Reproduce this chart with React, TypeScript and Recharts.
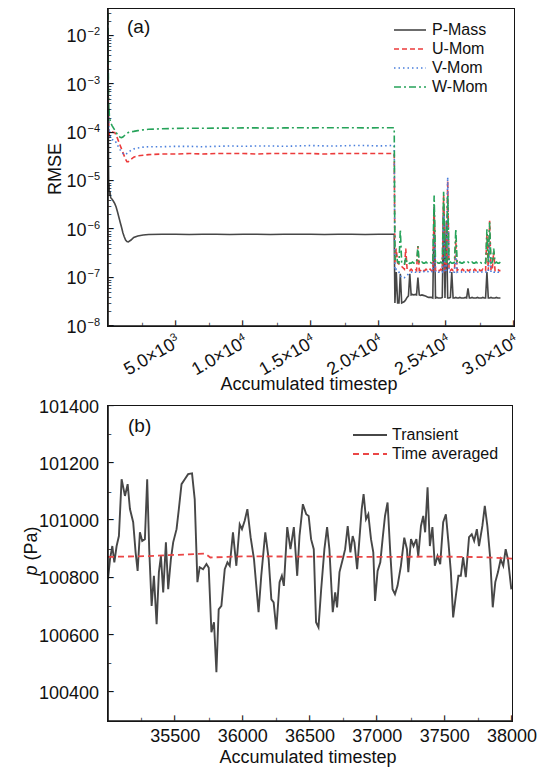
import { LineChart, Line, XAxis, YAxis, Legend, Customized } from "recharts"

const FONT = "'Liberation Sans', Arial, sans-serif"
const INK = "#151515"

// ---- panel (a): RMSE vs accumulated timestep ----
const earlySteps = [
  0, 20, 40, 60, 80, 100, 150, 200, 300, 400, 500, 600, 700, 800, 900, 1000, 1100, 1200, 1300, 1400,
  1500, 1700, 1900, 2200, 2600, 3000, 4000, 5000, 6000, 7000, 8000, 9000, 10000, 11000, 12000, 13000,
  14000, 15000, 16000, 17000, 18000, 19000, 20000, 21000, 21150,
]
const pMassEarly = [
  1.2e-2, 3e-4, 2e-5, 6e-6, 9e-6, 5e-6, 6e-6, 4.5e-6, 4.2e-6, 3.8e-6,
  3.4e-6, 2.9e-6, 2.3e-6, 1.8e-6, 1.4e-6, 1.1e-6, 8.5e-7, 7e-7, 6e-7, 5.6e-7,
  5.5e-7, 6e-7, 6.8e-7, 7.3e-7, 7.6e-7, 7.8e-7, 7.9e-7, 7.9e-7, 7.8e-7, 7.9e-7,
  7.9e-7, 7.8e-7, 7.9e-7, 7.9e-7, 7.8e-7, 7.9e-7, 7.9e-7, 7.9e-7, 7.8e-7, 7.9e-7,
  7.9e-7, 7.8e-7, 7.9e-7, 7.9e-7, 7.9e-7,
]
const uMomEarly = [
  2.5e-3, 8e-4, 2e-4, 1.1e-4, 8e-5, 1e-4, 1.05e-4, 1.05e-4, 1.03e-4, 1.01e-4,
  1e-4, 8.9e-5, 7.6e-5, 6.4e-5, 5.4e-5, 4.6e-5, 3.9e-5, 3.3e-5, 2.8e-5, 2.5e-5,
  2.5e-5, 2.8e-5, 3.1e-5, 3.3e-5, 3.4e-5, 3.5e-5, 3.6e-5, 3.6e-5, 3.7e-5, 3.6e-5,
  3.7e-5, 3.7e-5, 3.7e-5, 3.6e-5, 3.7e-5, 3.7e-5, 3.7e-5, 3.7e-5, 3.6e-5, 3.7e-5,
  3.7e-5, 3.7e-5, 3.7e-5, 3.7e-5, 3.7e-5,
]
const vMomEarly = [
  1e-2, 1e-3, 2.5e-4, 1.3e-4, 1.1e-4, 1.2e-4, 8.5e-5, 7.5e-5, 7.2e-5, 7e-5,
  7e-5, 6.2e-5, 5.5e-5, 4.9e-5, 4.4e-5, 4e-5, 3.7e-5, 3.5e-5, 3.5e-5, 3.7e-5,
  3.9e-5, 4.3e-5, 4.6e-5, 4.8e-5, 5e-5, 5.1e-5, 5.1e-5, 5.2e-5, 5.2e-5, 5.1e-5,
  5.2e-5, 5.3e-5, 5.2e-5, 5.3e-5, 5.3e-5, 5.2e-5, 5.3e-5, 5.4e-5, 5.3e-5, 5.3e-5,
  5.4e-5, 5.4e-5, 5.3e-5, 5.4e-5, 5.4e-5,
]
const wMomEarly = [
  3e-2, 3e-3, 6e-4, 2.6e-4, 3.2e-4, 2.2e-4, 1.8e-4, 1.6e-4, 1.4e-4, 1.25e-4,
  1.12e-4, 1e-4, 9.2e-5, 8.5e-5, 8e-5, 7.9e-5, 8.1e-5, 8.6e-5, 9.1e-5, 9.6e-5,
  1e-4, 1.04e-4, 1.06e-4, 1.1e-4, 1.14e-4, 1.17e-4, 1.2e-4, 1.22e-4, 1.23e-4, 1.23e-4,
  1.24e-4, 1.24e-4, 1.25e-4, 1.25e-4, 1.24e-4, 1.25e-4, 1.26e-4, 1.25e-4, 1.26e-4, 1.26e-4,
  1.26e-4, 1.25e-4, 1.26e-4, 1.26e-4, 1.26e-4,
]

const lateSteps = [
  21200, 21300, 21400, 21500, 21600, 21700, 21800, 21900, 22000, 22100,
  22200, 22300, 22400, 22500, 22600, 22700, 22800, 22900, 23000, 23100,
  23200, 23300, 23400, 23500, 23600, 23700, 23800, 23900, 24000, 24100,
  24200, 24300, 24400, 24500, 24600, 24700, 24800, 24900, 25000, 25100,
  25200, 25300, 25400, 25500, 25600, 25700, 25800, 25900, 26000, 26100,
  26200, 26300, 26400, 26500, 26600, 26700, 26800, 26900, 27000, 27100,
  27200, 27300, 27400, 27500, 27600, 27700, 27800, 27900, 28000, 28100,
  28200, 28300, 28400, 28500, 28600, 28700, 28800, 28900, 29000,
]
const pMassLate = [
  3.0e-8, 1.3e-7, 3.0e-8, 3.0e-8, 1.2e-7, 3.0e-8, 3.1e-8, 3.2e-8, 3.5e-8, 3.9e-8,
  4.2e-8, 1.2e-7, 4.4e-8, 4.5e-8, 4.4e-8, 4.5e-8, 4.4e-8, 1.0e-7, 4.4e-8, 4.3e-8,
  4.4e-8, 4.3e-8, 4.2e-8, 4.1e-8, 4.0e-8, 3.9e-8, 3.9e-8, 3.9e-8, 3.8e-8, 3.0e-6,
  3.8e-8, 3.9e-8, 3.8e-8, 3.8e-8, 3.8e-8, 3.9e-8, 3.0e-6, 3.8e-8, 1.5e-6, 3.8e-8,
  3.8e-8, 3.9e-8, 1.3e-7, 3.8e-8, 3.8e-8, 3.9e-8, 3.8e-8, 3.8e-8, 3.9e-8, 3.8e-8,
  3.8e-8, 3.8e-8, 3.9e-8, 3.8e-8, 6.0e-8, 3.8e-8, 3.8e-8, 3.9e-8, 3.8e-8, 3.8e-8,
  3.8e-8, 3.9e-8, 3.8e-8, 3.8e-8, 3.8e-8, 3.9e-8, 3.8e-8, 3.8e-8, 1.3e-7, 3.8e-8,
  3.8e-8, 3.9e-8, 3.8e-8, 3.8e-8, 3.8e-8, 3.9e-8, 3.8e-8, 3.8e-8, 3.8e-8,
]
const uMomLate = [
  2.0e-7, 4.0e-7, 2.0e-7, 1.9e-7, 1.8e-7, 1.7e-7, 1.6e-7, 1.5e-7, 4.0e-7, 1.5e-7,
  1.4e-7, 1.4e-7, 1.5e-7, 1.4e-7, 1.4e-7, 1.5e-7, 1.4e-7, 4.5e-7, 1.4e-7, 1.4e-7,
  1.5e-7, 1.4e-7, 1.4e-7, 1.5e-7, 1.4e-7, 1.4e-7, 1.5e-7, 1.4e-7, 1.4e-7, 2.0e-6,
  1.4e-7, 1.5e-7, 1.4e-7, 1.4e-7, 1.5e-7, 1.4e-7, 5.0e-6, 1.4e-7, 1.5e-7, 1.0e-5,
  1.4e-7, 1.4e-7, 1.5e-7, 1.4e-7, 1.4e-7, 6.0e-7, 1.4e-7, 1.5e-7, 1.4e-7, 1.4e-7,
  1.5e-7, 1.4e-7, 1.4e-7, 1.5e-7, 1.4e-7, 1.4e-7, 1.5e-7, 1.4e-7, 1.4e-7, 1.5e-7,
  1.4e-7, 1.4e-7, 1.5e-7, 1.4e-7, 1.4e-7, 1.5e-7, 1.4e-7, 1.4e-7, 8.0e-7, 1.4e-7,
  1.5e-6, 1.4e-7, 1.5e-7, 3.5e-7, 1.4e-7, 1.4e-7, 1.5e-7, 1.4e-7, 1.4e-7,
]
const vMomLate = [
  1.4e-7, 1.5e-7, 1.4e-7, 1.3e-7, 1.1e-7, 1.0e-7, 1.0e-7, 1.0e-7, 1.05e-7, 1.1e-7,
  1.2e-7, 1.25e-7, 1.3e-7, 1.3e-7, 1.35e-7, 1.3e-7, 1.3e-7, 1.35e-7, 1.3e-7, 1.3e-7,
  1.3e-7, 1.35e-7, 1.3e-7, 1.3e-7, 1.35e-7, 1.3e-7, 1.3e-7, 1.35e-7, 1.3e-7, 8.0e-7,
  1.3e-7, 1.35e-7, 1.3e-7, 1.3e-7, 1.35e-7, 1.3e-7, 2.0e-6, 1.3e-7, 1.35e-7, 1.2e-5,
  1.3e-7, 1.3e-7, 1.35e-7, 1.3e-7, 1.3e-7, 3.0e-7, 1.3e-7, 1.35e-7, 1.3e-7, 1.3e-7,
  1.35e-7, 1.3e-7, 1.3e-7, 1.35e-7, 1.3e-7, 1.3e-7, 1.35e-7, 1.3e-7, 1.3e-7, 1.35e-7,
  1.3e-7, 1.3e-7, 1.35e-7, 1.3e-7, 1.3e-7, 1.35e-7, 1.3e-7, 1.3e-7, 1.35e-7, 1.3e-7,
  5.0e-7, 1.3e-7, 1.35e-7, 1.3e-7, 1.3e-7, 1.35e-7, 1.3e-7, 1.3e-7, 1.3e-7,
]
const wMomLate = [
  2.3e-7, 3.0e-7, 2.1e-7, 2.0e-7, 1.0e-6, 2.0e-7, 1.9e-7, 1.9e-7, 2.6e-7, 2.0e-7,
  1.9e-7, 2.0e-7, 2.0e-7, 2.1e-7, 2.0e-7, 2.0e-7, 2.1e-7, 4.5e-7, 2.0e-7, 2.0e-7,
  2.1e-7, 2.0e-7, 2.0e-7, 2.1e-7, 2.0e-7, 2.0e-7, 2.1e-7, 2.0e-7, 2.0e-7, 5.0e-6,
  2.0e-7, 2.1e-7, 2.0e-7, 2.0e-7, 2.1e-7, 2.0e-7, 6.0e-6, 2.1e-7, 2.0e-7, 5.0e-6,
  2.0e-7, 2.1e-7, 2.0e-7, 2.0e-7, 2.1e-7, 1.0e-6, 2.0e-7, 2.0e-7, 2.1e-7, 2.0e-7,
  2.0e-7, 2.1e-7, 2.0e-7, 2.0e-7, 2.1e-7, 2.0e-7, 2.0e-7, 2.1e-7, 2.0e-7, 2.0e-7,
  2.1e-7, 2.0e-7, 2.0e-7, 2.1e-7, 2.0e-7, 2.0e-7, 2.1e-7, 2.0e-7, 1.0e-6, 2.0e-7,
  1.4e-6, 2.0e-7, 2.1e-7, 4.0e-7, 2.0e-7, 2.1e-7, 2.0e-7, 2.0e-7, 2.1e-7,
]

const rmseXTicks = [2500, 5000, 7500, 10000, 12500, 15000, 17500, 20000, 22500, 25000, 27500, 30000]
const rmseXLabels: Record<number, [string, string]> = {
  5000: ["5.0", "3"], 10000: ["1.0", "4"], 15000: ["1.5", "4"],
  20000: ["2.0", "4"], 25000: ["2.5", "4"], 30000: ["3.0", "4"],
}
const rmseDecades = [-8, -7, -6, -5, -4, -3, -2]
const logMinors = [2, 3, 4, 5, 6, 7, 8, 9]
const RMSE_DOMAIN = [1e-8, 0.036]

// ---- panel (b): pressure signal ----
const transientSteps = [
  35000, 35015, 35032, 35047, 35064, 35081, 35101, 35126, 35146, 35163,
  35187, 35205, 35220, 35237, 35254, 35274, 35291, 35306, 35324, 35341,
  35361, 35378, 35393, 35410, 35430, 35447, 35467, 35484, 35509, 35526,
  35546, 35570, 35595, 35624, 35644, 35664, 35681, 35706, 35731, 35748,
  35768, 35787, 35805, 35822, 35842, 35867, 35887, 35904, 35928, 35953,
  35978, 35995, 36015, 36035, 36059, 36084, 36118, 36138, 36168, 36193,
  36213, 36230, 36250, 36274, 36291, 36306, 36331, 36355, 36380, 36405,
  36422, 36447, 36472, 36490, 36508, 36528, 36545, 36563, 36583, 36607,
  36627, 36644, 36669, 36687, 36701, 36719, 36743, 36761, 36780, 36800,
  36817, 36830, 36850, 36867, 36884, 36898, 36916, 36933, 36953, 36970,
  36983, 37002, 37022, 37039, 37057, 37076, 37096, 37113, 37131, 37150,
  37175, 37200, 37220, 37230, 37250, 37269, 37290, 37304, 37324, 37341,
  37355, 37373, 37390, 37409, 37427, 37447, 37467, 37489, 37509, 37528,
  37546, 37563, 37583, 37602, 37620, 37637, 37657, 37681, 37701, 37719,
  37739, 37755, 37780, 37798, 37817, 37837, 37857, 37876, 37896, 37916,
  37935, 37953, 37970, 37995,
]
const transientPa = [
  100795, 100865, 100911, 100854, 100911, 100946, 101144, 101086, 101127, 101040,
  100994, 100889, 100824, 100959, 100929, 100935, 101144, 100900, 100702, 100807,
  100638, 100820, 100876, 100749, 100924, 100760, 100865, 100924, 100970, 101040,
  101127, 101144, 101162, 101165, 101074, 100785, 100837, 100830, 100848, 100835,
  100610, 100645, 100470, 100690, 100702, 100830, 100854, 100842, 100959, 100842,
  100987, 100970, 100999, 101040, 100942, 100865, 100680, 100807, 100959, 100865,
  100725, 100714, 100620, 100785, 100807, 100772, 100977, 100900, 100977, 100807,
  100946, 101057, 101022, 101016, 100935, 100900, 100645, 100627, 100760, 100900,
  100977, 100900, 100680, 100749, 100697, 100820, 100865, 100900, 100981, 100889,
  100946, 100924, 100830, 100935, 101040, 101092, 101005, 101022, 100935, 100889,
  100719, 100824, 100854, 100935, 101016, 101063, 100889, 100760, 100743, 100772,
  100842, 100940, 100900, 100820, 100935, 100911, 100935, 100876, 100981, 101016,
  100959, 101116, 100911, 100977, 100842, 100876, 100848, 100994, 101022, 100924,
  100820, 100662, 100737, 100807, 100807, 100872, 100802, 100942, 100952, 100929,
  100970, 100911, 100981, 101051, 100981, 100876, 100697, 100785, 100820, 100865,
  100842, 100900, 100865, 100760,
]
const averagedSteps = [35000, 35300, 35600, 35720, 35760, 36000, 36500, 37000, 37500, 37800, 38000]
const averagedPa = [100873, 100876, 100882, 100885, 100871, 100875, 100874, 100873, 100874, 100872, 100867]

const pXTicks = [35250, 35500, 35750, 36000, 36250, 36500, 36750, 37000, 37250, 37500, 37750, 38000]
const pYTicks = [100400, 100500, 100600, 100700, 100800, 100900, 101000, 101100, 101200, 101300, 101400]

const COLORS = { p: "#474747", u: "#ec3b3b", v: "#4a7fdc", w: "#26a35a", avg: "#ea4646" }

const rmseRows = [...earlySteps, ...lateSteps].map((step, i) => {
  const early = i < earlySteps.length
  const j = early ? i : i - earlySteps.length
  return {
    step,
    pMass: early ? pMassEarly[j] : pMassLate[j],
    uMom: early ? uMomEarly[j] : uMomLate[j],
    vMom: early ? vMomEarly[j] : vMomLate[j],
    wMom: early ? wMomEarly[j] : wMomLate[j],
  }
})
const transientRows = transientSteps.map((t, i) => ({ t, p: transientPa[i] }))
const averagedRows = averagedSteps.map((t, i) => ({ t, p: averagedPa[i] }))

const logTicks: number[] = []
rmseDecades.forEach((e) => {
  logTicks.push(Math.pow(10, e))
  if (e < -2) logMinors.forEach((m) => logTicks.push(m * Math.pow(10, e)))
})
logTicks.push(2e-2, 3e-2)

const isDecade = (v: number) => Math.abs(Math.log10(v) - Math.round(Math.log10(v))) < 1e-6

// tick marks drawn with an en dash glyph (rotated for vertical marks)
function Mark({ x, y, dir, len }: { x: number; y: number; dir: "up" | "down" | "left" | "right"; len: number }) {
  const fs = len / 0.556
  const angle = dir === "right" ? 0 : dir === "left" ? 180 : dir === "up" ? -90 : 90
  return (
    <text
      x={x}
      y={y}
      dy={0.27 * fs}
      fontSize={fs}
      fontWeight="bold"
      fontFamily={FONT}
      fill={INK}
      transform={`rotate(${angle} ${x} ${y})`}
    >
      {"\u2013"}
    </text>
  )
}

function RmseBottomTick({ x, y, payload }: any) {
  const v = payload.value
  const lab = rmseXLabels[v]
  return (
    <g>
      <Mark x={x} y={y} dir="up" len={lab ? 6 : 3.5} />
      {lab && (
        <text
          x={x + 6}
          y={y + 19}
          textAnchor="end"
          transform={`rotate(-30 ${x + 6} ${y + 19})`}
          fontSize={18}
          fontFamily={FONT}
          fill="#111"
        >
          {lab[0]}×10<tspan dy={-7} fontSize={11}>{lab[1]}</tspan>
        </text>
      )}
    </g>
  )
}

function MirrorTick({ x, y, payload, side, majorTest }: any) {
  const len = majorTest(payload.value) ? 6 : 3.5
  return <Mark x={x} y={y} dir={side === "top" ? "down" : "left"} len={len} />
}

function RmseLeftTick({ x, y, payload }: any) {
  const v = payload.value
  const major = isDecade(v)
  return (
    <g>
      <Mark x={x} y={y} dir="right" len={major ? 6 : 3.5} />
      {major && (
        <text x={x - 8} y={y + 6.5} textAnchor="end" fontSize={18} fontFamily={FONT} fill="#111">
          10<tspan dx={1} dy={-7} fontSize={11}>{"\u2212" + Math.abs(Math.round(Math.log10(v)))}</tspan>
        </text>
      )}
    </g>
  )
}

function PBottomTick({ x, y, payload }: any) {
  const v = payload.value
  const major = v % 500 === 0
  return (
    <g>
      <Mark x={x} y={y} dir="up" len={major ? 6 : 3.5} />
      {major && (
        <text x={x} y={y + 21} textAnchor="middle" fontSize={18} fontFamily={FONT} fill="#111">
          {v}
        </text>
      )}
    </g>
  )
}

function PLeftTick({ x, y, payload }: any) {
  const v = payload.value
  const major = v % 200 === 0
  return (
    <g>
      <Mark x={x} y={y} dir="right" len={major ? 6 : 3.5} />
      {major && (
        <text x={x - 9} y={y + 6.5} textAnchor="end" fontSize={18} fontFamily={FONT} fill="#111">
          {v}
        </text>
      )}
    </g>
  )
}

type LegendItem = { name: string; color: string; dash?: string; width: number }

function LegendBox({ items, lineW, gap }: { items: LegendItem[]; lineW: number; gap: number }) {
  return (
    <div style={{ fontFamily: FONT, fontSize: 16, color: "#111" }}>
      {items.map((it) => (
        <div key={it.name} style={{ display: "flex", alignItems: "center", height: 19 }}>
          <svg width={lineW} height={10} style={{ marginRight: gap }}>
            <line x1={0} y1={5} x2={lineW} y2={5} stroke={it.color} strokeWidth={it.width} strokeDasharray={it.dash} />
          </svg>
          <span>{it.name}</span>
        </div>
      ))}
    </div>
  )
}

const rmseLegend: LegendItem[] = [
  { name: "P-Mass", color: COLORS.p, width: 1.6 },
  { name: "U-Mom", color: COLORS.u, dash: "5 3", width: 1.6 },
  { name: "V-Mom", color: COLORS.v, dash: "1.5 3", width: 1.6 },
  { name: "W-Mom", color: COLORS.w, dash: "7 3 2 3", width: 1.6 },
]
const pLegend: LegendItem[] = [
  { name: "Transient", color: COLORS.p, width: 1.8 },
  { name: "Time averaged", color: COLORS.avg, dash: "6 4", width: 1.8 },
]

const axisCommon = {
  type: "number" as const,
  allowDataOverflow: true,
  interval: 0 as const,
  tickSize: 0,
  tickMargin: 0,
  tickLine: false,
  axisLine: { stroke: INK, strokeWidth: 1.6 },
}

// HTML frame over the plot area of a panel
function FrameBox({ left, top, width, height }: { left: number; top: number; width: number; height: number }) {
  return (
    <div
      style={{
        position: "absolute",
        left: left - 0.8,
        top: top - 0.8,
        width,
        height,
        border: `1.6px solid ${INK}`,
        pointerEvents: "none",
      }}
    />
  )
}

function RmsePanel() {
  return (
    <div style={{ position: "relative", width: 543, height: 398 }}>
      <LineChart width={543} height={398} data={rmseRows} margin={{ top: 9, right: 29, left: 48, bottom: 0 }}>
        <XAxis
          {...axisCommon}
          xAxisId="b"
          dataKey="step"
          domain={[0, 30000]}
          ticks={rmseXTicks}
          height={72}
          tick={<RmseBottomTick />}
          label={{
            content: ({ viewBox }: any) => (
              <text x={viewBox.x + viewBox.width / 2 - 2} y={viewBox.y + 64} textAnchor="middle" fontSize={18} fontFamily={FONT} fill="#111">
                Accumulated timestep
              </text>
            ),
          }}
        />
        <XAxis
          {...axisCommon}
          xAxisId="t"
          orientation="top"
          dataKey="step"
          domain={[0, 30000]}
          ticks={rmseXTicks}
          height={0}
          tick={<MirrorTick side="top" majorTest={(v: number) => v % 5000 === 0} />}
        />
        <YAxis
          {...axisCommon}
          yAxisId="l"
          scale="log"
          domain={RMSE_DOMAIN}
          ticks={logTicks}
          width={60}
          tick={<RmseLeftTick />}
          label={{
            content: () => (
              <text x={61} y={169} textAnchor="middle" transform="rotate(-90 61 169)" fontSize={18} fontFamily={FONT} fill="#111">
                RMSE
              </text>
            ),
          }}
        />
        <YAxis
          {...axisCommon}
          yAxisId="r"
          orientation="right"
          scale="log"
          domain={RMSE_DOMAIN}
          ticks={logTicks}
          width={0}
          tick={<MirrorTick side="right" majorTest={isDecade} />}
        />
        <Line xAxisId="b" yAxisId="l" dataKey="pMass" stroke={COLORS.p} strokeWidth={1.6} dot={false} isAnimationActive={false} />
        <Line xAxisId="b" yAxisId="l" dataKey="uMom" stroke={COLORS.u} strokeWidth={1.6} strokeDasharray="5 3" dot={false} isAnimationActive={false} />
        <Line xAxisId="b" yAxisId="l" dataKey="vMom" stroke={COLORS.v} strokeWidth={1.6} strokeDasharray="1.5 3" dot={false} isAnimationActive={false} />
        <Line xAxisId="b" yAxisId="l" dataKey="wMom" stroke={COLORS.w} strokeWidth={1.6} strokeDasharray="7 3 2 3" dot={false} isAnimationActive={false} />
        <Legend
          layout="vertical"
          align="center"
          verticalAlign="middle"
          wrapperStyle={{ left: 394, top: 20.5, width: "auto", height: "auto" }}
          content={() => <LegendBox items={rmseLegend} lineW={32} gap={6} />}
        />
        <Customized
          component={() => (
            <text x={127} y={33} fontSize={19} fontFamily={FONT} fill="#111">
              (a)
            </text>
          )}
        />
      </LineChart>
      <FrameBox left={108} top={9} width={406} height={317} />
    </div>
  )
}

function PressurePanel() {
  return (
    <div style={{ position: "relative", width: 543, height: 371 }}>
      <LineChart width={543} height={371} margin={{ top: 8, right: 31, left: 48, bottom: 0 }}>
        <XAxis
          {...axisCommon}
          xAxisId="b"
          dataKey="t"
          domain={[35000, 38000]}
          ticks={pXTicks}
          height={48}
          tick={<PBottomTick />}
          label={{
            content: ({ viewBox }: any) => (
              <text x={viewBox.x + viewBox.width / 2 - 2} y={viewBox.y + 42} textAnchor="middle" fontSize={18} fontFamily={FONT} fill="#111">
                Accumulated timestep
              </text>
            ),
          }}
        />
        <XAxis
          {...axisCommon}
          xAxisId="t"
          orientation="top"
          dataKey="t"
          domain={[35000, 38000]}
          ticks={pXTicks}
          height={0}
          tick={<MirrorTick side="top" majorTest={(v: number) => v % 500 === 0} />}
        />
        <YAxis
          {...axisCommon}
          yAxisId="l"
          domain={[100300, 101400]}
          ticks={pYTicks}
          width={60}
          tick={<PLeftTick />}
          label={{
            content: () => (
              <text x={37} y={153} textAnchor="middle" transform="rotate(-90 37 153)" fontSize={18} fontFamily={FONT} fill="#111">
                <tspan fontStyle="italic">p</tspan> (Pa)
              </text>
            ),
          }}
        />
        <YAxis
          {...axisCommon}
          yAxisId="r"
          orientation="right"
          domain={[100300, 101400]}
          ticks={pYTicks}
          width={0}
          tick={<MirrorTick side="right" majorTest={(v: number) => v % 200 === 0} />}
        />
        <Line xAxisId="b" yAxisId="l" data={transientRows} dataKey="p" stroke={COLORS.p} strokeWidth={1.9} dot={false} isAnimationActive={false} />
        <Line xAxisId="b" yAxisId="l" data={averagedRows} dataKey="p" stroke={COLORS.avg} strokeWidth={1.8} strokeDasharray="6 4" dot={false} isAnimationActive={false} />
        <Legend
          layout="vertical"
          align="center"
          verticalAlign="middle"
          wrapperStyle={{ left: 353, top: 27.5, width: "auto", height: "auto" }}
          content={() => <LegendBox items={pLegend} lineW={34} gap={5} />}
        />
        <Customized
          component={() => (
            <text x={128} y={34} fontSize={19} fontFamily={FONT} fill="#111">
              (b)
            </text>
          )}
        />
      </LineChart>
      <FrameBox left={108} top={8} width={404} height={315} />
    </div>
  )
}

export default function App() {
  return (
    <div style={{ position: "absolute", left: 0, top: 0, width: 543, height: 769, background: "#fff", fontFamily: FONT }}>
      <RmsePanel />
      <PressurePanel />
    </div>
  )
}
